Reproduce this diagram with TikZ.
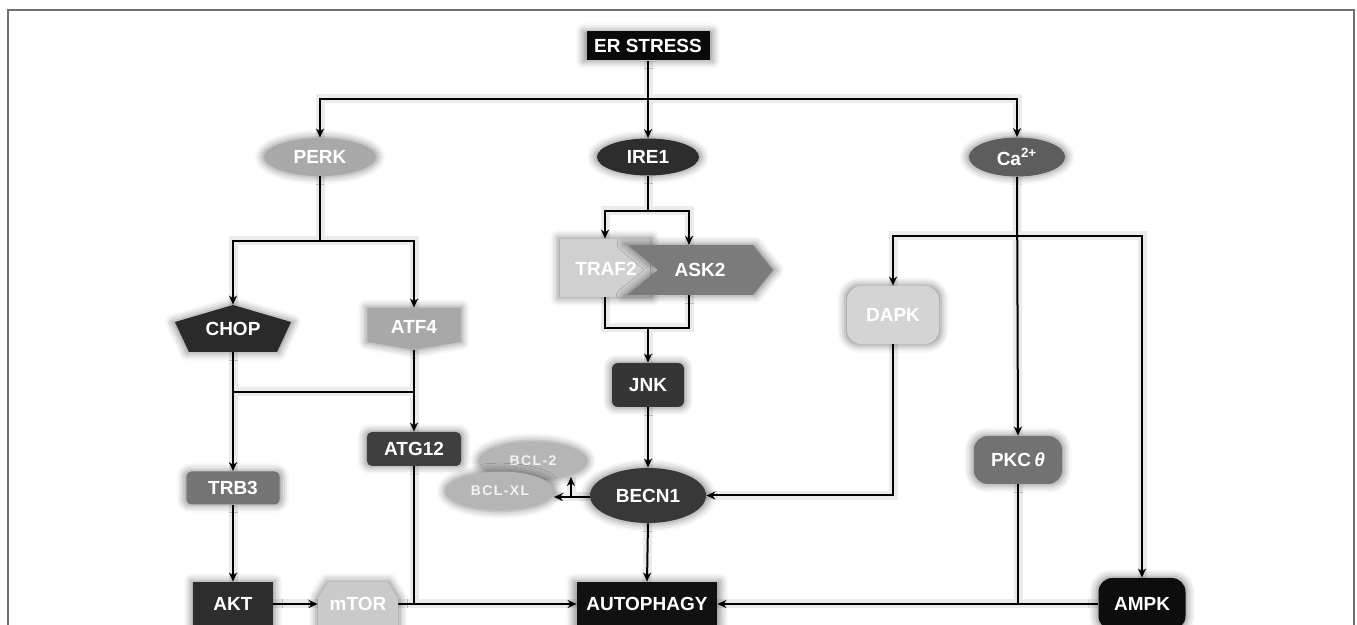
\documentclass[tikz,border=0pt]{standalone}
\usepackage{fontspec}
\setmainfont{Liberation Sans}
\usetikzlibrary{arrows.meta,shadows.blur,shapes.geometric}
\pgfdeclarelayer{bg}
\pgfdeclarelayer{lines}
\pgfsetlayers{bg,lines,main}
\definecolor{cERS}{HTML}{0A0A0A}
\definecolor{cPERK}{HTML}{A9A9A9}
\definecolor{cIRE}{HTML}{2D2D2D}
\definecolor{cCA}{HTML}{5D5D5D}
\definecolor{cCHOP}{HTML}{2A2A2A}
\definecolor{cATF}{HTML}{A8A8A8}
\definecolor{cTRAF}{HTML}{D0D0D0}
\definecolor{cASK}{HTML}{7B7B7B}
\definecolor{cJNK}{HTML}{353535}
\definecolor{cDAPK}{HTML}{D4D4D4}
\definecolor{cATG}{HTML}{3F3F3F}
\definecolor{cTRB}{HTML}{747474}
\definecolor{cBCL}{HTML}{B5B5B5}
\definecolor{cBECN}{HTML}{383838}
\definecolor{cPKC}{HTML}{727272}
\definecolor{cAKT}{HTML}{2D2D2D}
\definecolor{cMTOR}{HTML}{CACACA}
\definecolor{cAUTO}{HTML}{111111}
\definecolor{cAMPK}{HTML}{0D0D0D}
\definecolor{cFrame}{HTML}{707070}
\definecolor{cHalo}{HTML}{EBEBEB}
\tikzset{
  lbl/.style={text=white, font=\fontsize{9.5}{11}\selectfont\bfseries, inner sep=0pt},
  small/.style={text=white!95!black, font=\fontsize{7}{8}\selectfont\bfseries\addfontfeatures{LetterSpace=10}, inner sep=0pt},
  glow/.style={blur shadow={shadow xshift=0pt, shadow yshift=0pt, shadow blur radius=3.5pt, shadow opacity=45, shadow scale=1.05}},
  oval/.style={lbl, glow, ellipse, inner sep=0pt},
  box/.style={lbl, glow, rectangle},
}
\newcommand\myconnectors{%
\draw[arr] (ers.south) -- (ire.north);
\draw[arr] (jt) -| (perk.north);
\draw[arr] (jt) -| (ca.north);
\draw[conn] (perk.south) -- (jp);
\draw[arr] (jp) -| (chop.north);
\draw[arr] (jp) -| (atf.north);
\draw[arr] (chop.south) -- (trb.north);
\draw[conn] (jc) -- (ja);
\draw[arr] (atf.south) -- (atg.north);
\draw[arr] (trb.south) -- (akt.north);
\draw[arr] (akt.east) -- (mtor.west);
\draw[conn] (mtor.east) -- (jm);
\draw[conn] (atg.south) -- (jm);
\draw[arr] (jm) -- (auto.west);
\draw[conn] (ire.south) -- (ji);
\draw[arr] (ji) -| (traf.north);
\draw[arr] (ji) -| (askin);
\draw[conn] (traf.south) |- (jj);
\draw[conn] (askout) |- (jj);
\draw[arr] (jj) -- (jnk.north);
\draw[arr] (jnk.south) -- (becn.north);
\draw[arr] (becn.south) -- (auto.north);
\draw[conn] (becn.west |- jb) -- (jb);
\draw[arr] (jb) -- (bclxl.east |- jb);
\draw[arr] (jb) -- (bcl2in);
\draw[arr] (ca.south) -- (pkc.north);
\draw[arr] (jca) -| (dapk.north);
\draw[arr] (jca) -| (ampk.north);
\draw[arr] (dapk.south) |- (becn.east);
\draw[conn] (pkc.south) -- (pkc.south |- auto.east);
\draw[arr] (ampk.west) -- (auto.east);
}
\begin{document}
\begin{tikzpicture}[x=0.5pt,y=-0.5pt]
\useasboundingbox (0,0) rectangle (1357,625);
% frame
\draw[cFrame, line width=0.8pt] (8,640) -- (8,10) -- (1354,10) -- (1354,640);

% top
\node[box, fill=cERS, minimum width=61.5pt, minimum height=14.5pt] (ers) at (648,46) {ER STRESS};
\node[oval, fill=cPERK, minimum width=55pt, minimum height=19pt] (perk) at (320,157) {PERK};
\node[oval, fill=cIRE, minimum width=51pt, minimum height=18.5pt] (ire) at (648,157) {IRE1};
\node[oval, fill=cCA, minimum width=48pt, minimum height=19.5pt] (ca) at (1017,157) {Ca\textsuperscript{2+}};

% CHOP and ATF4
\fill[cCHOP, glow] (175,322) -- (233,305) -- (291,322) -- (277,352) -- (189,352) -- cycle;
\node[lbl, minimum width=58pt, minimum height=23.5pt] (chop) at (233,328.5) {CHOP};
\fill[cATF, glow] (368,308) -- (460,308) -- (460,342) -- (414,350) -- (368,342) -- cycle;
\node[lbl, minimum width=46pt, minimum height=21pt] (atf) at (414,329) {\raisebox{2pt}{ATF4}};

% TRAF2 / ASK2
\node[box, fill=cTRAF, minimum width=45pt, minimum height=29pt] (traf) at (605,268) {};
\fill[cASK, glow] (628,245) -- (753,245) -- (773,270) -- (753,295) -- (627,295) -- (658,270) -- cycle;
\node[lbl] (traft) at (606,269) {TRAF2};
\node[lbl, minimum width=73pt, minimum height=25pt] (ask) at (700,270) {ASK2};
\coordinate (askin) at (689,245);
\coordinate (askout) at (689,295);

\node[box, fill=cJNK, rounded corners=3pt, minimum width=36pt, minimum height=22pt] (jnk) at (648,385) {JNK};

% right side
\node[box, fill=cDAPK, rounded corners=7pt, minimum width=46pt, minimum height=29pt] (dapk) at (893,315) {DAPK};
\node[box, fill=cPKC, rounded corners=7pt, minimum width=44pt, minimum height=24pt] (pkc) at (1018,460) {PKC\,{\itshape θ}};

% middle
\node[box, fill=cATG, rounded corners=2.5pt, minimum width=47pt, minimum height=17pt] (atg) at (414,449) {ATG12};
\node[box, fill=cTRB, rounded corners=2.5pt, minimum width=46.5pt, minimum height=16.5pt] (trb) at (233,488) {TRB3};
\node[oval, small, fill=cBCL, minimum width=53pt, minimum height=19.5pt] (bcl2) at (533,461) {BCL-2};
\node[oval, small, fill=cBCL, minimum width=53.5pt, minimum height=19.5pt] (bclxl) at (500,491) {BCL-XL};
\node[oval, fill=cBECN, minimum width=58pt, minimum height=27.5pt] (becn) at (648,495.5) {BECN1};

% bottom
\node[box, fill=cAKT, minimum width=40pt, minimum height=22pt] (akt) at (233,604) {AKT};
\fill[cMTOR, glow] (318,640) -- (318,598) -- (328,582) -- (388,582) -- (398,598) -- (398,640) -- cycle;
\node[lbl, minimum width=40pt, minimum height=21pt] (mtor) at (358,604) {mTOR};
\node[box, fill=cAUTO, minimum width=70pt, minimum height=22pt] (auto) at (647,604) {AUTOPHAGY};
\node[box, fill=cAMPK, rounded corners=7pt, minimum width=43.5pt, minimum height=26pt] (ampk) at (1142,604) {AMPK};

\coordinate (jt) at (648,99);
\coordinate (jp) at (320,241);
\coordinate (jc) at (233,392);
\coordinate (ja) at (414,392);
\coordinate (ji) at (648,211);
\coordinate (jj) at (648,328);
\coordinate (jb) at (571,497);
\coordinate (bcl2in) at (571,477);
\coordinate (jca) at (1018,236);
\coordinate (jm) at (414,604);

% soft halo under the connectors
\begin{pgfonlayer}{bg}
\tikzset{conn/.style={draw=cHalo, line width=4.5pt}, arr/.style={conn}}
\myconnectors
\end{pgfonlayer}
% the connectors themselves
\begin{pgfonlayer}{lines}
\tikzset{conn/.style={line width=1pt, black}, arr/.style={conn, -{Stealth[length=4.5pt,width=4pt]}}}
\myconnectors
\end{pgfonlayer}
\end{tikzpicture}
\end{document}
